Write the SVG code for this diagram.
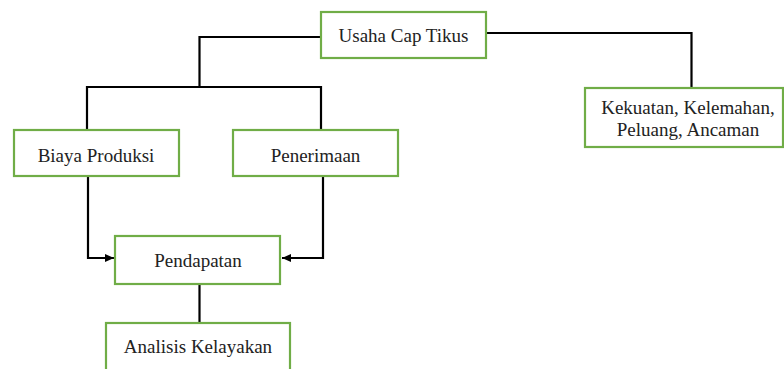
<svg xmlns="http://www.w3.org/2000/svg" width="784" height="369" viewBox="0 0 784 369">
<style>
.box{fill:#fff;stroke:#70AD47;stroke-width:2.2}
.lbl{font-size:19px;fill:#222;text-anchor:middle}
.ln{fill:none;stroke:#000;stroke-width:2.2}
</style>
<defs>
<marker id="ah" markerWidth="10" markerHeight="10" refX="9" refY="5" orient="auto" markerUnits="userSpaceOnUse">
<path d="M0,1 L9,5 L0,9 Z" fill="#000"/>
</marker>
</defs>
<rect width="784" height="369" fill="#fff"/>
<g id="connectors">
<path class="ln" d="M321,37 H199.5 V87"/>
<path class="ln" d="M87,130 V87 H321 V130"/>
<path class="ln" d="M486,33 H691.5 V88"/>
<path class="ln" d="M88,176 V258 H114" marker-end="url(#ah)"/>
<path class="ln" d="M323,176 V258 H282" marker-end="url(#ah)"/>
<path class="ln" d="M199.5,284 V323"/>
</g>
<g font-family="Liberation Serif, Times New Roman, Times, serif">
<g id="usaha">
<rect class="box" x="321" y="12" width="165" height="46"/>
<text class="lbl" x="403.5" y="41.5">Usaha Cap Tikus</text>
</g>
<g id="kekuatan">
<rect class="box" x="585" y="88" width="198" height="59"/>
<text class="lbl" x="688" y="113.5">Kekuatan, Kelemahan,</text>
<text class="lbl" x="688" y="136">Peluang, Ancaman</text>
</g>
<g id="biaya">
<rect class="box" x="14" y="130" width="165" height="46"/>
<text class="lbl" x="96" y="161.5">Biaya Produksi</text>
</g>
<g id="penerimaan">
<rect class="box" x="233" y="130" width="165" height="46"/>
<text class="lbl" x="315.5" y="161.5">Penerimaan</text>
</g>
<g id="pendapatan">
<rect class="box" x="115" y="236" width="165" height="48"/>
<text class="lbl" x="198" y="266.5">Pendapatan</text>
</g>
<g id="analisis">
<rect class="box" x="106" y="323" width="184" height="60"/>
<text class="lbl" x="198" y="353">Analisis Kelayakan</text>
</g>
</g>
</svg>
